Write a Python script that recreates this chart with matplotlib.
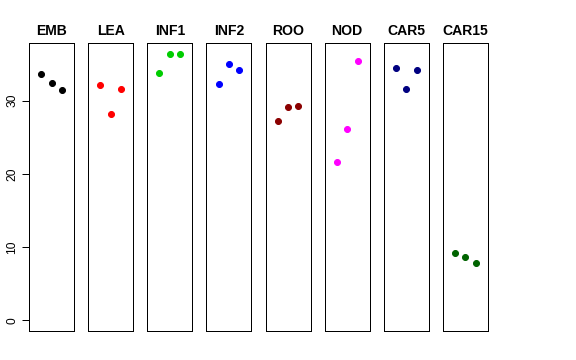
import matplotlib
matplotlib.use("Agg")
import matplotlib.pyplot as plt

plt.rcParams['font.family'] = ['Liberation Sans', 'DejaVu Sans']

tissues = ["EMB", "LEA", "INF1", "INF2", "ROO", "NOD", "CAR5", "CAR15"]
colors = ["black", "#FF0000", "#00CD00", "#0000FF", "#8B0000", "#FF00FF", "#000080", "#006400"]
emb = [33.6, 32.45, 31.46]
lea = [32.14, 28.2, 31.55]
inf1 = [33.78, 36.3, 36.4]
inf2 = [32.2, 34.96, 34.14]
roo = [27.27, 29.18, 29.28]
nod = [21.64, 26.18, 35.4]
car5 = [34.46, 31.6, 34.19]
car15 = [9.23, 8.65, 7.77]
series = [emb, lea, inf1, inf2, roo, nod, car5, car15]
reps = [1, 2, 3]
yticks = [0, 10, 20, 30]

W, H = 576, 360
fig = plt.figure(figsize=(W / 72, H / 72), dpi=72)
ymax = 36.4
ylim = (-0.04 * ymax, ymax * 1.04)
left0 = 29.0
pitch = 59.14
pw = 45.0
top = 43.0
bottom = 331.0
for i, (name, vals, col) in enumerate(zip(tissues, series, colors)):
    x0 = left0 + i * pitch
    ax = fig.add_axes([x0 / W, 1 - bottom / H, pw / W, (bottom - top) / H])
    ax.plot(reps, vals, 'o', color=col, markersize=6, linestyle='none')
    ax.set_xlim(-0.16, 4.16)
    ax.set_ylim(*ylim)
    ax.set_xticks([])
    for s in ax.spines.values():
        s.set_linewidth(1.0)
        s.set_color('black')
    ax.set_title(name, fontsize=14, fontweight='bold', pad=8)
    if i == 0:
        ax.set_yticks(yticks)
        ax.set_yticklabels([str(t) for t in yticks], rotation=90, va='center', fontsize=12)
        ax.tick_params(axis='y', length=7, width=1, pad=4, labelcolor='black')
    else:
        ax.set_yticks([])

fig.savefig("out.png", dpi=72)
